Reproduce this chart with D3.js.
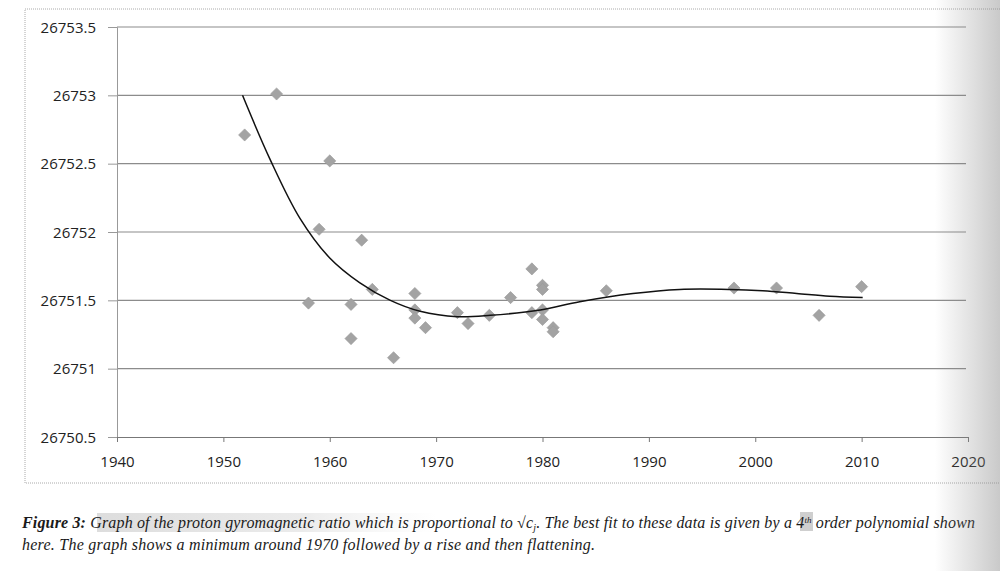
<!DOCTYPE html>
<html>
<script src='https://d3js.org/d3.v7.min.js'></script>
<style>
 body {margin:0; background:#fff;}
 .tick text {font-family:'Open Sans', sans-serif; font-size:15px; fill:#222;}
 .caption {font-family:'Liberation Serif', serif; font-style:italic; font-size:16px; fill:#1a1a1a;}
</style>
<body onload='init()'>
<svg width=1000 height=571></svg>
<script>
// measured points (year, ratio)
var years = [1952,1955,1960,1959,1958,1963,1962,1962,1964,1966,1968,1968,1968,1969,1972,1973,1975,1977,1979,1980,1980,1979,1980,1980,1981,1981,1986,1998,2002,2006,2010];
var ratios = [26752.71,26753.01,26752.52,26752.02,26751.48,26751.94,26751.47,26751.22,26751.58,26751.08,26751.55,26751.43,26751.37,26751.30,26751.41,26751.33,26751.39,26751.52,26751.73,26751.61,26751.58,26751.41,26751.43,26751.36,26751.30,26751.27,26751.57,26751.59,26751.59,26751.39,26751.60];
// 4th order trend line
var fitYears = [1951.8,1954.4,1957.2,1960.0,1962.8,1965.7,1968.5,1972.0,1975.1,1979.8,1983.5,1988.5,1992.9,1997.6,2000.7,2003.9,2007.0,2010.1];
var fitRatios = [26753.00,26752.53,26752.10,26751.81,26751.63,26751.50,26751.42,26751.38,26751.39,26751.43,26751.49,26751.55,26751.58,26751.58,26751.57,26751.55,26751.53,26751.52];
var xTicks = [1940,1950,1960,1970,1980,1990,2000,2010,2020];
var yTicks = [26750.5,26751,26751.5,26752,26752.5,26753,26753.5];

function init() {
 var svg = d3.select("svg");
 var x = d3.scaleLinear().domain([1940, 2020]).range([117, 968]);
 var y = d3.scaleLinear().domain([26750.5, 26753.5]).range([437, 27]);
 var defs = svg.append("defs");

 // chart frame
 svg.append("rect").attr("x",25).attr("y",9).attr("width",990).attr("height",474)
  .attr("fill","none").attr("stroke","#aaa").attr("stroke-dasharray","1,1");

 // gridlines
 svg.append("g").selectAll("line").data(yTicks.slice(1)).enter().append("line")
  .attr("x1",117).attr("x2",966)
  .attr("y1",function(d){return y(d);}).attr("y2",function(d){return y(d);})
  .attr("stroke","#8c8c8c").attr("stroke-width",1.1);

 var ya = svg.append("g").attr("transform","translate(117,0)")
  .call(d3.axisLeft(y).tickValues(yTicks).tickSize(9).tickPadding(12).tickFormat(d3.format("")));
 ya.selectAll("line, path").attr("stroke","#999");
 ya.selectAll("text").attr("dy","0.35em");

 var xa = svg.append("g").attr("transform","translate(0,437)")
  .call(d3.axisBottom(x).tickValues(xTicks).tickSize(5).tickPadding(14).tickFormat(d3.format("d")));
 xa.selectAll("line, path").attr("stroke","#777");

 // points
 svg.append("g").selectAll("rect").data(years).enter().append("rect")
  .attr("x",-4.3).attr("y",-4.3).attr("width",8.6).attr("height",8.6)
  .attr("transform",function(d,i){return "translate("+x(d)+","+y(ratios[i])+") rotate(45)";})
  .attr("fill","#a3a3a3").attr("stroke","#999").attr("stroke-width",0.6);

 // trend line
 var line = d3.line().x(function(d){return x(d);}).y(function(d,i){return y(fitRatios[i]);})
  .curve(d3.curveCatmullRom.alpha(0.5));
 svg.append("path").datum(fitYears).attr("d",line)
  .attr("fill","none").attr("stroke","#111").attr("stroke-width",1.5);

 // caption highlights
 var hl = defs.append("linearGradient").attr("id","hl");
 hl.append("stop").attr("offset","0").attr("stop-color","#ddd").attr("stop-opacity",1);
 hl.append("stop").attr("offset","0.6").attr("stop-color","#e6e6e6").attr("stop-opacity",0.8);
 hl.append("stop").attr("offset","1").attr("stop-color","#eee").attr("stop-opacity",0);
 svg.append("rect").attr("x",97).attr("y",513).attr("width",340).attr("height",19).attr("fill","url(#hl)");
 svg.append("rect").attr("x",800).attr("y",512).attr("width",13).attr("height",19).attr("fill","#cfcfcf");

 var c1 = svg.append("text").attr("class","caption").attr("x",22).attr("y",528).attr("textLength",953).attr("lengthAdjust","spacing");
 c1.append("tspan").attr("font-weight","bold").text("Figure 3: ");
 c1.append("tspan").text("Graph of the proton gyromagnetic ratio which is proportional to \u221Ac");
 c1.append("tspan").attr("font-size","10px").attr("dy",3).text("j");
 c1.append("tspan").attr("dy",-3).text(". The best fit to these data is given by a 4");
 c1.append("tspan").attr("font-size","9px").attr("dy",-5).text("th");
 c1.append("tspan").attr("dy",5).text(" order polynomial shown");
 svg.append("text").attr("class","caption").attr("x",22).attr("y",550).attr("textLength",573).attr("lengthAdjust","spacing")
  .text("here. The graph shows a minimum around 1970 followed by a rise and then flattening.");

 // scanned page shading on the right edge
 var grad = defs.append("linearGradient").attr("id","shade");
 grad.append("stop").attr("offset","0").attr("stop-color","#888").attr("stop-opacity",0);
 grad.append("stop").attr("offset","1").attr("stop-color","#888").attr("stop-opacity",0.45);
 svg.append("rect").attr("x",935).attr("y",0).attr("width",65).attr("height",571).attr("fill","url(#shade)");
}
</script>
</body>
</html>
